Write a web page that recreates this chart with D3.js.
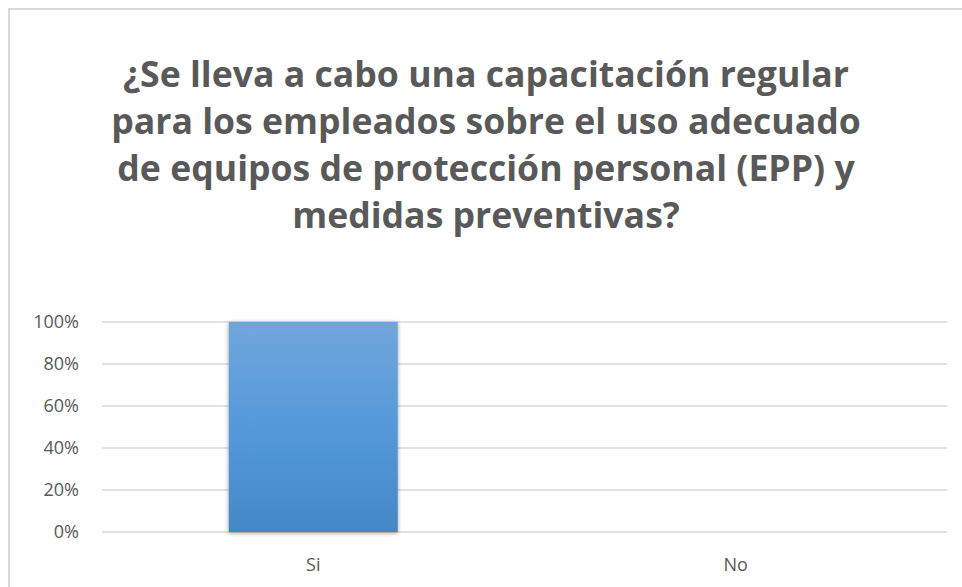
<!DOCTYPE html>
<html>
<head>
<meta charset="utf-8">
<script src="https://cdn.jsdelivr.net/npm/d3@7"></script>
<style>
  body { margin: 0; background: #fff; }
  svg { display: block; }
</style>
</head>
<body>
<div id="chart"></div>
<script>
// chart data
var categories = ["Si", "No"];
var values = [1.0, 0.0];
var yTicks = [0, 0.2, 0.4, 0.6, 0.8, 1.0];
var titleLines = [
  "¿Se lleva a cabo una capacitación regular",
  "para los empleados sobre el uso adecuado",
  "de equipos de protección personal (EPP) y",
  "medidas preventivas?"
];

var width = 962, height = 587;
var margin = {top: 322, right: 15, bottom: 55, left: 102};
var font = "'Open Sans', 'Noto Sans', sans-serif";

var svg = d3.select("#chart").append("svg")
  .attr("width", width)
  .attr("height", height);

var defs = svg.append("defs");
var grad = defs.append("linearGradient")
  .attr("id", "barGrad")
  .attr("x1", 0).attr("y1", 0).attr("x2", 0).attr("y2", 1);
grad.append("stop").attr("offset", "0%").attr("stop-color", "#71a6dc");
grad.append("stop").attr("offset", "50%").attr("stop-color", "#5499da");
grad.append("stop").attr("offset", "100%").attr("stop-color", "#4488c8");

var shadow = defs.append("filter").attr("id", "shadow")
  .attr("x", "-10%").attr("y", "-5%").attr("width", "120%").attr("height", "115%");
shadow.append("feDropShadow")
  .attr("dx", 0).attr("dy", 1).attr("stdDeviation", 2)
  .attr("flood-color", "#000").attr("flood-opacity", 0.4);

// chart border
svg.append("path")
  .attr("d", "M9," + height + " L9,9 L" + width + ",9")
  .attr("fill", "none")
  .attr("stroke", "#d9d9d9")
  .attr("stroke-width", 2);

// title: one text per line, a bit taller and squeezed sideways (Calibri-like)
var titleSize = 35;
var titles = svg.append("g").selectAll("text")
  .data(titleLines)
  .enter()
  .append("text")
  .attr("text-anchor", "middle")
  .attr("fill", "#595959")
  .style("font-family", font)
  .style("font-weight", "bold")
  .style("font-size", titleSize + "px")
  .text(function(d) { return d; });

var maxW = 0;
titles.each(function() {
  maxW = Math.max(maxW, this.getComputedTextLength());
});
var sx = maxW > 0 ? 750 / maxW : 1;
titles.attr("transform", function(d, i) {
  return "translate(486," + (87 + i * 47) + ") scale(" + sx.toFixed(4) + ",1)";
});

var x = d3.scaleBand()
  .domain(categories)
  .range([margin.left, width - margin.right])
  .paddingInner(0)
  .paddingOuter(0);

var y = d3.scaleLinear()
  .domain([0, 1])
  .range([height - margin.bottom, margin.top]);

// gridlines
svg.append("g")
  .selectAll("line")
  .data(yTicks)
  .enter()
  .append("line")
  .attr("x1", margin.left)
  .attr("x2", width - margin.right)
  .attr("y1", function(d) { return y(d); })
  .attr("y2", function(d) { return y(d); })
  .attr("stroke", "#d9d9d9")
  .attr("stroke-width", 1.5);

// y axis labels
var yAxis = d3.axisLeft(y)
  .tickValues(yTicks)
  .tickFormat(d3.format(".0%"))
  .tickSize(0)
  .tickPadding(23);

svg.append("g")
  .attr("transform", "translate(" + margin.left + ",0)")
  .call(yAxis)
  .call(function(g) { g.select(".domain").remove(); })
  .selectAll("text")
  .attr("fill", "#595959")
  .style("font-family", font)
  .style("font-size", "18px");

// bars
var barW = x.bandwidth() / 2.5;
svg.append("g")
  .selectAll("rect")
  .data(values)
  .enter()
  .append("rect")
  .attr("x", function(d, i) { return x(categories[i]) + (x.bandwidth() - barW) / 2; })
  .attr("y", function(d) { return y(d); })
  .attr("width", barW)
  .attr("height", function(d) { return y(0) - y(d); })
  .attr("fill", "url(#barGrad)")
  .attr("filter", "url(#shadow)");

// x axis labels
var xAxis = d3.axisBottom(x)
  .tickSize(0)
  .tickPadding(26);

svg.append("g")
  .attr("transform", "translate(0," + y(0) + ")")
  .call(xAxis)
  .call(function(g) { g.select(".domain").remove(); })
  .selectAll("text")
  .attr("fill", "#595959")
  .style("font-family", font)
  .style("font-size", "18px");
</script>
</body>
</html>
